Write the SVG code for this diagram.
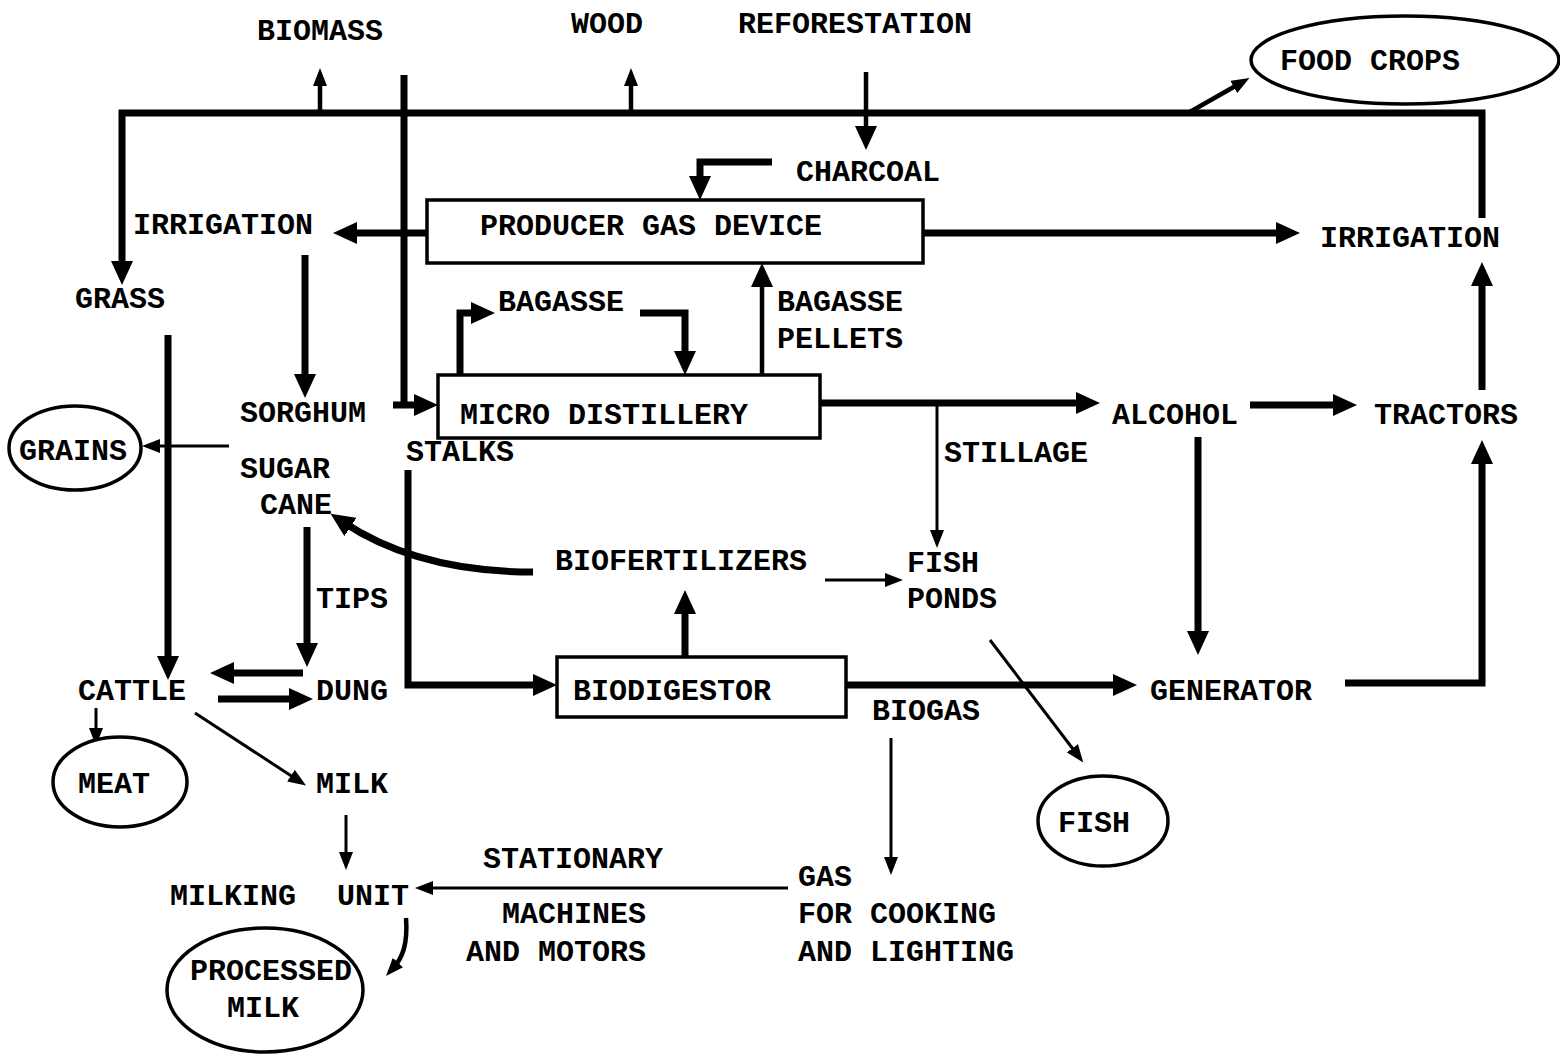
<svg xmlns="http://www.w3.org/2000/svg" width="1560" height="1054" viewBox="0 0 1560 1054">
<style>
text{font-family:"Liberation Mono","DejaVu Sans Mono",monospace;font-weight:bold;font-size:30px;fill:#000}
.box{fill:#fff;stroke:#000;stroke-width:3.5}
.ell{fill:#fff;stroke:#000;stroke-width:3.5}
.k{fill:none;stroke:#000;stroke-width:7;stroke-linejoin:miter}
.m{fill:none;stroke:#000;stroke-width:4.5}
.t{fill:none;stroke:#000;stroke-width:3}
</style>
<defs>
<marker id="ah" markerUnits="userSpaceOnUse" markerWidth="24" markerHeight="22" refX="9" refY="11" orient="auto"><path d="M0,0 L24,11 L0,22 z" fill="#000"/></marker>
<marker id="at" markerUnits="userSpaceOnUse" markerWidth="18" markerHeight="14" refX="6" refY="7" orient="auto"><path d="M0,0 L18,7 L0,14 z" fill="#000"/></marker>
</defs>
<rect width="1560" height="1054" fill="#fff"/>
<g id="connectors">
<path class="k" d="M1482,218 L1482,113 L122,113 L122,270" marker-end="url(#ah)"/>
<path class="m" d="M320,113 L320,80" marker-end="url(#at)"/>
<path class="m" d="M631,113 L631,80" marker-end="url(#at)"/>
<path class="k" d="M404,75 L404,405"/>
<path class="k" d="M393,405 L423,405" marker-end="url(#ah)"/>
<path class="m" d="M866,72 L866,135" marker-end="url(#ah)"/>
<path class="m" d="M1188,113 L1239,84" marker-end="url(#at)"/>
<path class="k" d="M772,162 L700,162 L700,185" marker-end="url(#ah)"/>
<path class="k" d="M427,233 L348,233" marker-end="url(#ah)"/>
<path class="k" d="M923,233 L1285,233" marker-end="url(#ah)"/>
<path class="k" d="M1482,390 L1482,277" marker-end="url(#ah)"/>
<path class="k" d="M168,335 L168,665" marker-end="url(#ah)"/>
<path class="k" d="M305,255 L305,383" marker-end="url(#ah)"/>
<path class="k" d="M408,470 L408,685 L542,685" marker-end="url(#ah)"/>
<path class="k" d="M460,375 L460,313 L480,313" marker-end="url(#ah)"/>
<path class="k" d="M640,313 L685,313 L685,360" marker-end="url(#ah)"/>
<path class="m" d="M762,375 L762,278" marker-end="url(#ah)"/>
<path class="k" d="M820,403 L1085,403" marker-end="url(#ah)"/>
<path class="k" d="M1250,405 L1342,405" marker-end="url(#ah)"/>
<path class="k" d="M1198,437 L1198,640" marker-end="url(#ah)"/>
<path class="k" d="M1345,683 L1482,683 L1482,455" marker-end="url(#ah)"/>
<path class="k" d="M846,685 L1122,685" marker-end="url(#ah)"/>
<path class="k" d="M685,657 L685,605" marker-end="url(#ah)"/>
<path class="k" d="M533,572 C470,572 400,560 343,522" marker-end="url(#ah)"/>
<path class="k" d="M307,527 L307,652" marker-end="url(#ah)"/>
<path class="k" d="M303,673 L225,673" marker-end="url(#ah)"/>
<path class="k" d="M218,699 L298,699" marker-end="url(#ah)"/>
<path class="t" d="M229,446 L154,446" marker-end="url(#at)"/>
<path class="t" d="M937,403 L937,536" marker-end="url(#at)"/>
<path class="t" d="M825,580 L891,580" marker-end="url(#at)"/>
<path class="t" d="M990,640 L1076,753" marker-end="url(#at)"/>
<path class="t" d="M96,708 L96,734" marker-end="url(#at)"/>
<path class="t" d="M195,713 L296,779" marker-end="url(#at)"/>
<path class="t" d="M346,815 L346,858" marker-end="url(#at)"/>
<path class="t" d="M788,888 L427,888" marker-end="url(#at)"/>
<path class="m" d="M406,918 C408,945 402,958 394,967" marker-end="url(#at)"/>
<path class="t" d="M891,738 L891,863" marker-end="url(#at)"/>
</g>
<g id="biomass"><text x="257" y="40">BIOMASS</text></g>
<g id="wood"><text x="571" y="33">WOOD</text></g>
<g id="reforestation"><text x="738" y="33">REFORESTATION</text></g>
<g id="food-crops"><ellipse class="ell" cx="1405" cy="60" rx="154" ry="44"/><text x="1280" y="70">FOOD CROPS</text></g>
<g id="charcoal"><text x="796" y="181">CHARCOAL</text></g>
<g id="producer-gas-device"><rect class="box" x="427" y="200" width="496" height="63"/><text x="480" y="235">PRODUCER GAS DEVICE</text></g>
<g id="irrigation-left"><text x="133" y="234">IRRIGATION</text></g>
<g id="irrigation-right"><text x="1320" y="247">IRRIGATION</text></g>
<g id="grass"><text x="75" y="308">GRASS</text></g>
<g id="bagasse"><text x="498" y="311">BAGASSE</text></g>
<g id="bagasse-pellets"><text x="777" y="311">BAGASSE</text><text x="777" y="348">PELLETS</text></g>
<g id="sorghum"><text x="240" y="422">SORGHUM</text></g>
<g id="micro-distillery"><rect class="box" x="438" y="375" width="382" height="63"/><text x="460" y="424">MICRO DISTILLERY</text></g>
<g id="stalks"><text x="406" y="461">STALKS</text></g>
<g id="alcohol"><text x="1112" y="424">ALCOHOL</text></g>
<g id="tractors"><text x="1374" y="424">TRACTORS</text></g>
<g id="grains"><ellipse class="ell" cx="75" cy="448" rx="66" ry="42"/><text x="19" y="460">GRAINS</text></g>
<g id="stillage"><text x="944" y="462">STILLAGE</text></g>
<g id="sugar-cane"><text x="240" y="478">SUGAR</text><text x="260" y="514">CANE</text></g>
<g id="biofertilizers"><text x="555" y="570">BIOFERTILIZERS</text></g>
<g id="fish-ponds"><text x="907" y="572">FISH</text><text x="907" y="608">PONDS</text></g>
<g id="tips"><text x="316" y="608">TIPS</text></g>
<g id="cattle"><text x="78" y="700">CATTLE</text></g>
<g id="dung"><text x="316" y="700">DUNG</text></g>
<g id="biodigestor"><rect class="box" x="557" y="657" width="289" height="60"/><text x="573" y="700">BIODIGESTOR</text></g>
<g id="generator"><text x="1150" y="700">GENERATOR</text></g>
<g id="biogas"><text x="872" y="720">BIOGAS</text></g>
<g id="meat"><ellipse class="ell" cx="120" cy="782" rx="67" ry="45"/><text x="78" y="793">MEAT</text></g>
<g id="milk"><text x="316" y="793">MILK</text></g>
<g id="fish"><ellipse class="ell" cx="1103" cy="821" rx="65" ry="45"/><text x="1058" y="832">FISH</text></g>
<g id="stationary-machines"><text x="483" y="868">STATIONARY</text><text x="502" y="923">MACHINES</text><text x="466" y="961">AND MOTORS</text></g>
<g id="gas-cooking"><text x="798" y="886">GAS</text><text x="798" y="923">FOR COOKING</text><text x="798" y="961">AND LIGHTING</text></g>
<g id="milking-unit"><text x="170" y="905">MILKING</text><text x="337" y="905">UNIT</text></g>
<g id="processed-milk"><ellipse class="ell" cx="265" cy="990" rx="98" ry="62"/><text x="190" y="980">PROCESSED</text><text x="227" y="1017">MILK</text></g>
</svg>
